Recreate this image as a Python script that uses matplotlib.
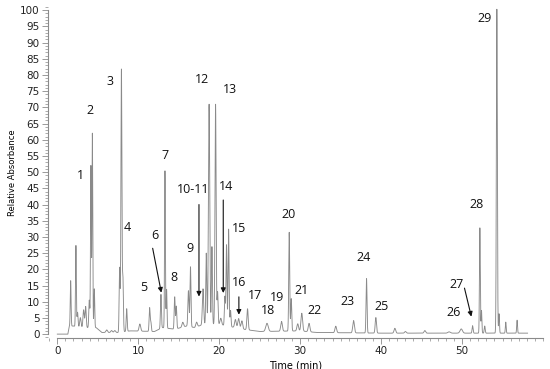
import numpy as np
import matplotlib
matplotlib.use("Agg")
import matplotlib.pyplot as plt
from matplotlib.ticker import MultipleLocator

# ---- data ----
peak_times = [1.65, 2.3, 2.5, 2.85, 3.25, 3.5, 3.95, 4.15, 4.33, 4.57,
              6.1, 6.7, 7.1, 7.7, 7.92, 8.1, 8.57, 10.2, 11.4, 11.55,
              12.8, 13.3, 13.5, 14.5, 14.7, 15.5, 16.2, 16.45, 17.2, 18.0,
              18.4, 18.75, 19.1, 19.55, 19.8, 20.2, 20.7, 20.9, 21.16, 21.4,
              22.0, 22.4, 22.8, 23.5, 25.9, 27.7, 28.65, 28.9, 29.7, 30.2,
              31.1, 34.4, 36.6, 38.2, 39.35, 41.7, 43.0, 45.4, 48.4, 49.9,
              51.3, 52.2, 52.4, 52.8, 54.3, 54.57, 55.4, 56.8]
peak_heights = [14, 25, 4.5, 3, 5.5, 6.5, 8.5, 50, 60, 12,
                0.8, 0.6, 0.6, 20, 81, 17, 7, 2.2, 7.2, 3,
                10.5, 48.5, 12, 10, 7, 1.5, 11, 18.5, 1.5, 11,
                22, 68, 24, 68, 10, 2, 9, 25, 30, 5,
                2.5, 3, 2.5, 6.5, 2.5, 3, 30.5, 10, 2.2, 5.5,
                2.6, 2, 3.8, 16.8, 4.8, 1.5, 0.5, 0.8, 0.4, 1.3,
                2.3, 32.5, 7, 2.2, 100, 6, 3.4, 4]
peak_widths = [0.05, 0.05, 0.06, 0.08, 0.08, 0.07, 0.06, 0.05, 0.05, 0.05,
               0.1, 0.1, 0.1, 0.06, 0.06, 0.06, 0.06, 0.1, 0.06, 0.06,
               0.06, 0.05, 0.05, 0.06, 0.06, 0.1, 0.07, 0.06, 0.1, 0.08,
               0.06, 0.08, 0.06, 0.07, 0.06, 0.1, 0.06, 0.06, 0.06, 0.06,
               0.1, 0.1, 0.1, 0.08, 0.15, 0.1, 0.06, 0.06, 0.1, 0.1,
               0.1, 0.1, 0.1, 0.06, 0.08, 0.1, 0.1, 0.1, 0.15, 0.15,
               0.06, 0.05, 0.05, 0.06, 0.06, 0.05, 0.05, 0.05]
base_times = [0, 1.3, 1.5, 2.0, 3.0, 4.8, 5.5, 7.5, 9.0, 12.0, 13.0, 14.5,
              16.0, 17.0, 18.0, 20.0, 22.0, 23.0, 25.0, 30.0, 32.0, 40.0, 58.0]
base_levels = [0, 0, 2.5, 2.5, 2.0, 2.0, 0.5, 0.5, 1.0, 0.8, 2.0, 1.5,
               2.5, 2.0, 3.0, 3.0, 2.0, 1.5, 0.8, 1.0, 0.5, 0.3, 0.3]

labels = ["1", "2", "3", "4", "5", "6", "7", "8", "9", "10-11", "12", "13",
          "14", "15", "16", "17", "18", "19", "20", "21", "22", "23", "24",
          "25", "26", "27", "28", "29"]
label_t = [2.85, 4.0, 6.5, 8.6, 10.7, 12.0, 13.3, 14.4, 16.4, 16.8, 17.9, 21.3,
           20.9, 22.5, 22.4, 24.4, 26.0, 27.2, 28.6, 30.2, 31.8, 35.8, 37.9,
           40.0, 48.9, 49.3, 51.8, 52.8]
label_h = [49, 69, 78, 33, 14.5, 30.5, 55, 17.5, 26.5, 44.5, 78.5, 75.5,
           45.5, 32.5, 16, 11.8, 7.2, 11.2, 37, 13.4, 7.2, 10, 23.6,
           8.4, 6.6, 15.2, 40, 97.5]

arrow_start = [(11.78, 26.5), (17.5, 40.0), (20.5, 41.4), (22.43, 11.5), (50.3, 14.2)]
arrow_end = [(12.85, 12.8), (17.5, 11.6), (20.5, 12.7), (22.43, 6.0), (51.15, 5.4)]

# ---- build trace ----
t = np.arange(0, 58.1, 0.004)
y = np.interp(t, base_times, base_levels)
for pt, ph, pw in zip(peak_times, peak_heights, peak_widths):
    y = y + ph * np.exp(-0.5 * ((t - pt) / pw) ** 2)

fig = plt.figure(figsize=(5.5, 3.69), dpi=100)
ax = fig.add_axes([48 / 550, 31 / 369, 495 / 550, 331 / 369])
ax.plot(t, y, color="#8a8a8a", lw=0.65)
ax.set_xlim(-1.15, 60)
ax.set_ylim(-1.2, 101)

for s in ["top", "right"]:
    ax.spines[s].set_visible(False)
ax.spines["left"].set_bounds(0, 100)
ax.spines["bottom"].set_bounds(0, 60)
for s in ["left", "bottom"]:
    ax.spines[s].set_color("#8a8a8a")
    ax.spines[s].set_linewidth(0.8)

ax.xaxis.set_major_locator(MultipleLocator(10))
ax.xaxis.set_minor_locator(MultipleLocator(1))
ax.yaxis.set_major_locator(MultipleLocator(5))
ax.yaxis.set_minor_locator(MultipleLocator(1))
ax.set_xticks(np.arange(0, 51, 10))
ax.tick_params(which="major", length=4, width=0.6, color="#8a8a8a",
               labelsize=7.5, labelcolor="#222222", pad=2)
ax.tick_params(which="minor", length=2.5, width=0.5, color="#8a8a8a")

ax.set_xlabel("Time (min)", fontsize=7, labelpad=3)
ax.set_ylabel("Relative Absorbance", fontsize=6, labelpad=2)

for lab, lt, lh in zip(labels, label_t, label_h):
    ax.text(lt, lh, lab, ha="center", va="center", fontsize=9,
            family="Open Sans", color="#111111")

for (x0, y0), (x1, y1) in zip(arrow_start, arrow_end):
    ax.annotate("", xy=(x1, y1), xytext=(x0, y0),
                arrowprops=dict(arrowstyle="-|>", color="#111111", lw=0.8,
                                mutation_scale=7, shrinkA=0, shrinkB=0))

fig.savefig("out.png", dpi=100)
